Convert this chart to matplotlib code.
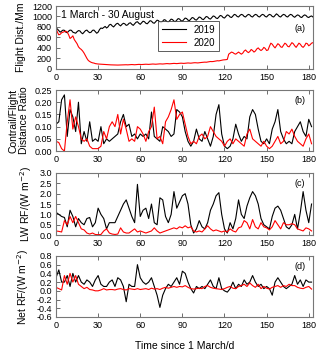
import numpy as np
import matplotlib
matplotlib.use('Agg')
import matplotlib.pyplot as plt

plt.rcParams['font.family'] = ['Liberation Sans', 'DejaVu Sans']

# daily flight distance (Mm), days 0..183
dist_2019 = [780, 760, 730, 700, 720, 740, 735,
             700, 690, 720, 740, 735, 700, 690,
             680, 710, 730, 725, 690, 670, 700,
             730, 740, 710, 690, 700, 735, 740,
             710, 680, 700, 750, 780, 770, 790,
             810, 780, 800, 840, 850, 820, 800,
             830, 860, 870, 840, 820, 850, 870,
             860, 830, 840, 870, 880, 850, 830,
             860, 890, 900, 870, 850, 880, 910,
             900, 870, 860, 890, 920, 910, 880,
             870, 900, 930, 920, 890, 880, 910,
             940, 930, 900, 890, 920, 950, 940,
             910, 900, 930, 960, 950, 920, 910,
             940, 970, 960, 930, 920, 950, 980,
             970, 940, 930, 960, 990, 980, 950,
             940, 970, 1000, 990, 960, 950, 980,
             1010, 1000, 970, 960, 990, 1020, 1010,
             980, 970, 1000, 1030, 1020, 990, 980,
             1010, 1040, 1030, 1000, 990, 1020, 1040,
             1030, 1000, 990, 1020, 1040, 1030, 1000,
             990, 1020, 1040, 1030, 1000, 990, 1020,
             1040, 1030, 1000, 990, 1020, 1040, 1030,
             1000, 990, 1020, 1050, 1030, 1000, 990,
             1020, 1040, 1030, 1000, 990, 1020, 1040,
             1030, 1000, 985, 1010, 1030, 1020, 990,
             980, 1010, 1030, 1020, 990, 980, 1000,
             1010, 990]
dist_2020 = [780, 700, 650, 660, 690, 700, 710,
             720, 700, 650, 580, 600, 630, 560,
             520, 480, 420, 390, 370, 340, 300,
             250, 200, 160, 140, 125, 115, 110,
             100, 95, 92, 90, 88, 86, 85,
             84, 82, 80, 78, 76, 75, 74,
             73, 72, 72, 73, 74, 75, 76,
             77, 78, 76, 78, 80, 82, 80,
             78, 80, 83, 85, 83, 82, 84,
             86, 88, 86, 85, 88, 90, 92,
             90, 88, 90, 93, 95, 93, 92,
             95, 98, 100, 97, 96, 99, 102,
             104, 101, 100, 103, 106, 108, 105,
             104, 107, 110, 112, 109, 108, 112,
             115, 117, 114, 113, 117, 120, 123,
             125, 128, 126, 130, 135, 140, 138,
             140, 145, 150, 155, 152, 158, 165,
             170, 172, 175, 180, 280, 300, 320,
             310, 290, 280, 300, 320, 300, 280,
             300, 340, 360, 330, 310, 330, 370,
             350, 320, 340, 380, 400, 370, 350,
             370, 410, 390, 350, 360, 430, 490,
             470, 430, 400, 440, 480, 460, 420,
             410, 450, 490, 470, 430, 420, 460,
             500, 480, 440, 410, 450, 490, 470,
             430, 410, 440, 490, 480, 440, 460,
             490, 500]

# every second day, days 0..182
ratio_2019 = [0.11, 0.12, 0.21, 0.23, 0.06, 0.17, 0.14, 0.08, 0.20, 0.03,
              0.08, 0.04, 0.12, 0.04, 0.05, 0.04, 0.10, 0.03, 0.05, 0.04,
              0.05, 0.06, 0.07, 0.12, 0.15, 0.10, 0.11, 0.06, 0.07, 0.05,
              0.07, 0.06, 0.07, 0.05, 0.16, 0.06, 0.05, 0.04, 0.10, 0.09,
              0.08, 0.06, 0.07, 0.17, 0.16, 0.14, 0.08, 0.04, 0.02, 0.04,
              0.09, 0.05, 0.04, 0.08, 0.05, 0.02, 0.06, 0.15, 0.19, 0.07,
              0.02, 0.01, 0.02, 0.05, 0.11, 0.07, 0.04, 0.06, 0.05, 0.14,
              0.17, 0.15, 0.09, 0.04, 0.03, 0.05, 0.03, 0.09, 0.12, 0.17,
              0.08, 0.05, 0.03, 0.04, 0.03, 0.08, 0.10, 0.12, 0.08, 0.06,
              0.13, 0.10]
ratio_2020 = [0.04, 0.035, 0.01, 0.0, 0.12, 0.21, 0.09, 0.14, 0.10, 0.05,
              0.04, 0.05, 0.02, 0.01, 0.01, 0.01, 0.02, 0.08, 0.05, 0.10,
              0.12, 0.10, 0.15, 0.07, 0.13, 0.09, 0.04, 0.05, 0.04, 0.10,
              0.09, 0.07, 0.04, 0.08, 0.10, 0.18, 0.05, 0.06, 0.03, 0.12,
              0.14, 0.17, 0.21, 0.13, 0.15, 0.16, 0.11, 0.06, 0.03, 0.04,
              0.03, 0.06, 0.07, 0.05, 0.06, 0.10, 0.08, 0.06, 0.05, 0.04,
              0.02, 0.04, 0.05, 0.03, 0.05, 0.04, 0.03, 0.02, 0.07, 0.09,
              0.05, 0.04, 0.03, 0.02, 0.04, 0.02, 0.01, 0.02, 0.04, 0.06,
              0.03, 0.04, 0.08, 0.07, 0.09, 0.06, 0.04, 0.03, 0.02, 0.05,
              0.07, 0.03]

lw_2019 = [1.1, 1.0, 0.9, 0.85, 0.4, 1.2, 0.9, 0.4, 0.8, 0.6,
           0.5, 0.8, 0.85, 0.4, 0.6, 1.3, 1.0, 0.8, 0.3, 0.6,
           0.6, 0.6, 0.9, 1.2, 1.5, 1.7, 1.3, 0.9, 0.6, 2.45,
           0.9, 1.2, 1.3, 0.8, 1.5, 0.6, 0.5, 1.8, 1.7, 0.9,
           0.6, 1.0, 2.1, 1.3, 1.6, 1.9, 2.0, 1.5, 0.5, 0.1,
           0.3, 0.7, 0.4, 0.3, 0.6, 1.2, 1.5, 1.9, 2.05, 1.0,
           0.3, 0.1, 0.6, 0.3, 0.8, 1.7, 1.0, 0.8, 1.4, 1.8,
           2.1, 1.9, 1.5, 0.8, 0.5, 0.4, 0.3, 0.9, 1.3, 1.4,
           1.2, 0.8, 0.4, 0.3, 0.5, 1.0, 0.3, 1.1, 2.1, 1.2,
           0.6, 1.5]
lw_2020 = [0.2, 0.18, 0.15, 0.7, 0.5, 0.9, 0.6, 0.9, 0.6, 0.3,
           0.25, 0.1, 0.05, 0.1, 0.03, 0.02, 0.03, 0.2, 0.3, 0.1,
           0.05, 0.03, 0.05, 0.35, 0.15, 0.1, 0.1, 0.2, 0.3, 0.15,
           0.2, 0.15, 0.1, 0.15, 0.2, 0.35, 0.2, 0.1, 0.15, 0.2,
           0.25, 0.3, 0.35, 0.3, 0.4, 0.35, 0.45, 0.35, 0.4, 0.2,
           0.15, 0.2, 0.15, 0.3, 0.45, 0.3, 0.2, 0.25, 0.2, 0.15,
           0.2, 0.15, 0.3, 0.2, 0.15, 0.35, 0.4, 0.7, 0.6, 0.3,
           0.75, 0.4, 0.3, 0.6, 0.4, 0.35, 0.25, 0.4, 0.7, 0.5,
           0.3, 0.6, 0.5, 0.5, 0.55, 0.5, 0.3, 0.25, 0.2, 0.35,
           0.3, 0.2]

net_2019 = [0.3, 0.48, 0.2, 0.2, 0.35, 0.1, 0.4, 0.2, 0.35, 0.2,
            0.15, 0.25, 0.2, 0.1, 0.25, 0.35, 0.15, 0.1, 0.1, 0.2,
            0.25, 0.1, 0.3, 0.25, 0.1, -0.25, 0.15, 0.1, 0.1, 0.6,
            0.3, 0.2, 0.15, 0.2, 0.3, 0.1, -0.1, -0.38, -0.1, 0.05,
            0.15, 0.1, 0.2, 0.3, 0.15, 0.45, 0.4, 0.2, 0.05, -0.05,
            0.1, 0.05, 0.1, 0.05, 0.15, 0.25, 0.1, 0.05, 0.3, 0.05,
            0.0, -0.03, 0.05, 0.2, 0.05, 0.15, 0.1, 0.25, 0.15, 0.2,
            0.35, 0.2, 0.1, 0.15, 0.05, 0.1, 0.05, -0.1, 0.2, 0.3,
            0.2, 0.1, 0.05, 0.1, 0.15, 0.35, 0.15, 0.25, 0.1, 0.25,
            0.2, 0.2]
net_2020 = [0.08, 0.05, 0.02, 0.35, 0.15, 0.4, 0.2, 0.35, 0.15, 0.1,
            0.05, 0.08, 0.03, 0.02, 0.0, 0.0, 0.02, 0.05, 0.02, 0.03,
            0.03, 0.02, 0.04, 0.05, 0.03, 0.02, 0.05, 0.04, 0.03, 0.05,
            0.03, 0.04, 0.05, 0.03, 0.06, 0.04, 0.05, 0.03, 0.06, 0.08,
            0.06, 0.08, 0.1, 0.08, 0.1, 0.09, 0.12, 0.08, 0.05, 0.04,
            0.05, 0.06, 0.05, 0.1, 0.12, 0.08, 0.06, 0.05, 0.04, 0.03,
            0.05, 0.08, 0.1, 0.06, 0.05, 0.1, 0.12, 0.15, 0.1, 0.18,
            0.12, 0.08, 0.15, 0.05, 0.1, 0.06, 0.04, 0.08, 0.1, 0.12,
            0.08, 0.12, 0.1, 0.15, 0.12, 0.12, 0.08, 0.06, 0.05, 0.08,
            0.1, 0.04]

days_daily = np.arange(len(dist_2019))
days_2 = np.arange(0, 2 * len(ratio_2019), 2)

fig = plt.figure(figsize=(3.2, 3.53), dpi=100)
left, width = 0.175, 0.803
boxes = [(0.805, 0.178), (0.572, 0.173), (0.334, 0.176), (0.102, 0.173)]
axes = [fig.add_axes([left, b, width, h]) for b, h in boxes]

RED = '#ff0000'
lw = 0.8

ax = axes[0]
ax.plot(days_daily, dist_2019, color='black', lw=lw, label='2019')
ax.plot(days_daily, dist_2020, color=RED, lw=lw, label='2020')
ax.set_ylim(0, 1200)
ax.set_yticks(np.arange(0, 1201, 200))
ax.set_ylabel('Flight Dist./Mm')
ax.text(0.02, 0.93, '1 March - 30 August', transform=ax.transAxes,
        fontsize=7.5, va='top', ha='left')
leg = ax.legend(loc='lower left', bbox_to_anchor=(0.377, 0.2), fontsize=7,
                frameon=True, fancybox=False, handlelength=2.5,
                borderpad=0.4, labelspacing=0.3)
leg.get_frame().set_edgecolor('#333333')
leg.get_frame().set_linewidth(0.7)

ax = axes[1]
ax.plot(days_2, ratio_2019, color='black', lw=lw)
ax.plot(days_2, ratio_2020, color=RED, lw=lw)
ax.set_ylim(0, 0.25)
ax.set_yticks(np.arange(0, 0.251, 0.05))
ax.yaxis.set_major_formatter(matplotlib.ticker.FormatStrFormatter('%.2f'))
ax.set_ylabel('Contrail/Flight\nDistance Ratio', linespacing=1.0)

ax = axes[2]
ax.plot(days_2, lw_2019, color='black', lw=lw)
ax.plot(days_2, lw_2020, color=RED, lw=lw)
ax.set_ylim(0, 3.0)
ax.set_yticks(np.arange(0, 3.01, 0.5))
ax.yaxis.set_major_formatter(matplotlib.ticker.FormatStrFormatter('%.1f'))
ax.set_ylabel('LW RF/(W m$^{-2}$)')

ax = axes[3]
ax.plot(days_2, net_2019, color='black', lw=lw)
ax.plot(days_2, net_2020, color=RED, lw=lw)
ax.set_ylim(-0.6, 0.8)
ax.set_yticks(np.arange(-0.6, 0.81, 0.2))
ax.yaxis.set_major_formatter(matplotlib.ticker.FormatStrFormatter('%.1f'))
ax.set_ylabel('Net RF/(W m$^{-2}$)')
ax.set_xlabel('Time since 1 March/d', fontsize=7.5, labelpad=8)

for ax, tag in zip(axes, ['(a)', '(b)', '(c)', '(d)']):
    ax.set_xlim(0, 183)
    ax.set_xticks(np.arange(0, 181, 30))
    ax.tick_params(direction='in', top=True, labelsize=6.5, length=3,
                   width=0.6, color='#555555', pad=3)
    ax.yaxis.label.set_size(7.5)
    for s in ax.spines.values():
        s.set_color('#777777')
        s.set_linewidth(0.8)
    ax.text(0.97, 0.9 if tag != '(a)' else 0.72, tag, transform=ax.transAxes,
            fontsize=6.5, ha='right', va='top')

fig.savefig('out.png', dpi=100)
